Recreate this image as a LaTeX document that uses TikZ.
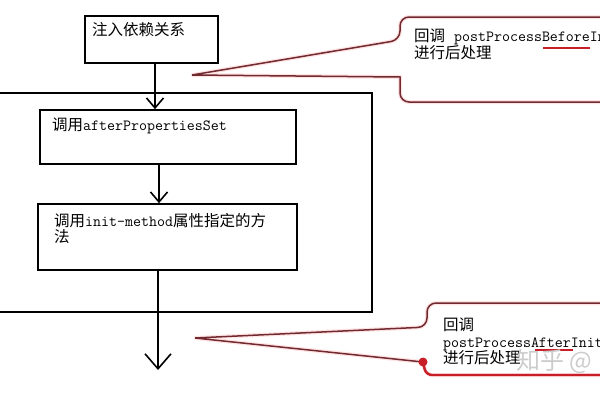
\documentclass[tikz,border=0pt]{standalone}
\usepackage{fontspec}
\newfontfamily\cjk{Noto Sans CJK SC}
\usetikzlibrary{arrows.meta}
\definecolor{calloutred}{RGB}{112,42,48}
\definecolor{markred}{RGB}{200,30,40}

\begin{document}
\begin{tikzpicture}[x=1pt,y=-1pt,
  box/.style={draw,line width=1.6pt,inner sep=0pt},
  txt/.style={anchor=north west,inner sep=0pt,align=left,font=\cjk\fontsize{15.5}{16.5}\selectfont},
  flow/.style={line width=1.6pt,-{Straight Barb[length=10pt,width=17pt,line width=1.6pt]}},
  callout/.style={draw=calloutred,line width=1.5pt,preaction={draw=pink!45,line width=4pt}}]
  \useasboundingbox (0,0) rectangle (600,400);
  \clip (0,0) rectangle (600,400);

  % steps
  \node[box,minimum width=133pt,minimum height=47pt] (inject) at (151.5,39.5) {};
  \node[box,minimum width=256pt,minimum height=54pt] (after) at (168,137) {};
  \node[box,minimum width=259pt,minimum height=66pt] (initm) at (167.5,237) {};
  \node[txt] (injecttxt) at (92,22) {注入依赖关系};
  \node[txt] (aftertxt) at (52,118) {调用\texttt{afterPropertiesSet}};
  \node[txt] (initmtxt) at (54,213) {调用\texttt{init-method}属性指定的方\\法};
  \coordinate (out) at (158,370);

  % frame
  \draw[line width=1.6pt] (0,93) -- (372,93) -- (372,312) -- (0,312);

  % arrows
  \draw[flow] ([xshift=3.5pt]inject.south) -- ([xshift=3.5pt]inject.south |- after.north);
  \draw[flow] ([xshift=-9pt]after.south) -- ([xshift=-9pt]after.south |- initm.north);
  \draw[line width=1.6pt,-{Straight Barb[length=15pt,width=26pt,line width=1.6pt]}] (initm.south -| out) -- (out);

  % callout before
  \coordinate (tipa) at (192,75);
  \draw[callout] (620,17) [rounded corners=9pt] -- (400,17) -- (400,40) [sharp corners] -- (tipa)
    -- (400,77) [rounded corners=9pt] -- (400,102) -- (620,102);
  \node[txt] (beforetxt) at (414,29) {回调\hspace{9pt}\texttt{postProcessBeforeInitialization}\\进行后处理};
  \draw[markred,line width=1.5pt] (543,48) -- (590,48);

  % callout after
  \coordinate (tipb) at (195,338);
  \draw[callout] (620,303) [rounded corners=9pt] -- (427,303) -- (427,327) [sharp corners] -- (tipb)
    -- (423,362) [rounded corners=6pt] -- (426,375) -- (620,375);
  \draw[markred,line width=2.4pt,rounded corners=6pt] (423,362) -- (426,375) -- (620,375);
  \fill[markred] (423,362) circle (4.5pt);
  \node[txt] (aftercalltxt) at (443,318) {回调\\\texttt{postProcessAfterInitialization}\\进行后处理};
  \draw[markred,line width=1.2pt] (535,350) -- (573,350);
  \node[anchor=north west,inner sep=0pt,text=gray!40,font=\cjk\fontsize{24}{24}\selectfont] (zhihu) at (516,349) {知乎 @};
\end{tikzpicture}
\end{document}
